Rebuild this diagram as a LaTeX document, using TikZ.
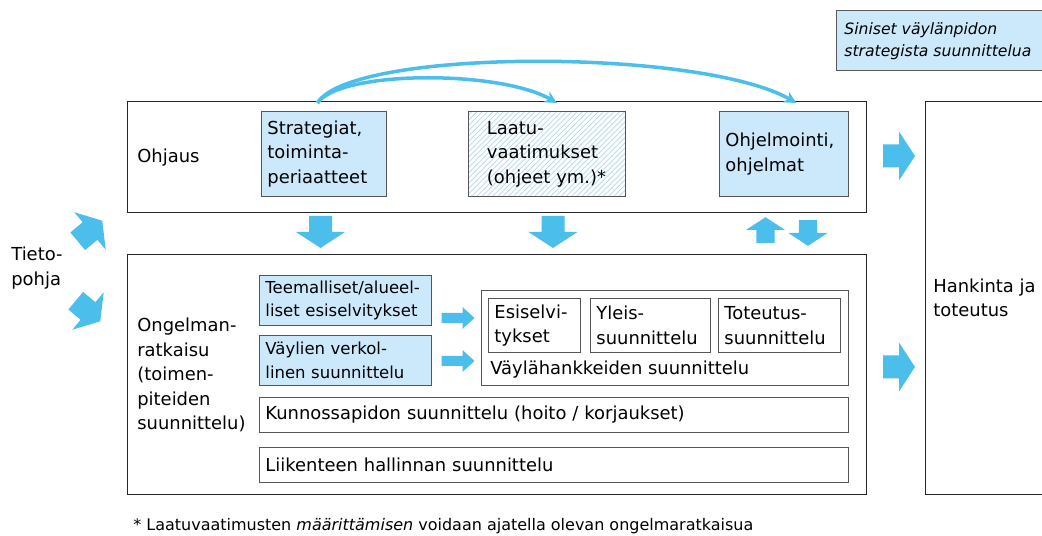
\documentclass[tikz,border=0pt]{standalone}
\usepackage{fontspec}
\setmainfont{DejaVu Sans}
\usepackage{tikz}
\usetikzlibrary{arrows.meta,positioning,patterns}

\definecolor{paleblue}{RGB}{204,233,251}
\definecolor{arrowblue}{RGB}{75,190,235}
\definecolor{boxgray}{RGB}{85,85,85}
\definecolor{hatchblue}{RGB}{180,216,240}
\newcommand{\mainfnt}{\fontsize{10.2}{13.9}\selectfont}
\newcommand{\smallfnt}{\fontsize{9.4}{13.2}\selectfont}
\hyphenpenalty=10000
\exhyphenpenalty=10000

\tikzset{
  outerbox/.style={draw=black!85, line width=0.75pt, anchor=north west, inner sep=0pt},
  box/.style={draw=boxgray, line width=0.5pt, anchor=north west, align=left, inner xsep=0.12cm, inner ysep=0pt, font=\mainfnt},
  bluebox/.style={box, fill=paleblue},
  lbl/.style={anchor=west, align=left, inner sep=0pt, font=\mainfnt},
  bendarrow/.style={draw=arrowblue, line width=2pt, -{Stealth[length=7pt,width=7pt]}},
  pics/fatarrow/.style={code={
    \fill[arrowblue] (-0.32cm,-0.23cm) -- (0,-0.23cm) -- (0,-0.49cm) -- (0.32cm,0)
      -- (0,0.49cm) -- (0,0.23cm) -- (-0.32cm,0.23cm) -- cycle;}},
  pics/thinarrow/.style={code={
    \fill[arrowblue] (-0.33cm,-0.1cm) -- (0.09cm,-0.1cm) -- (0.09cm,-0.22cm) -- (0.33cm,0)
      -- (0.09cm,0.22cm) -- (0.09cm,0.1cm) -- (-0.33cm,0.1cm) -- cycle;}}
}

\begin{document}
\begin{tikzpicture}[x=0.02cm, y=-0.02cm]
    \useasboundingbox (0,0) rectangle (1042,536);
    \clip (0,0) rectangle (1042,536);

    % Legend
    \node[outerbox, draw=gray!70!black, line width=0.6pt, fill=paleblue, minimum width=4.6cm, minimum height=1.2cm] (legend) at (836,10) {};
    \node[lbl, font=\fontsize{8.9}{12.5}\selectfont\itshape] (legendtxt) at (844,41) {Siniset väylänpidon\\strategista suunnittelua};

    % Outer frames
    \node[outerbox, minimum width=14.78cm, minimum height=2.22cm] (ohjaus) at (127,101) {};
    \node[outerbox, minimum width=14.78cm, minimum height=4.8cm] (ongelma) at (127,254) {};
    \node[outerbox, minimum width=3cm, minimum height=7.86cm] (hankinta) at (925,101) {};
    \node[lbl] (ohjauslbl) at (137,158) {Ohjaus};
    \node[lbl] (ongelmalbl) at (137,375) {Ongelman-\\ratkaisu\\(toimen-\\piteiden\\suunnittelu)};
    \node[lbl] (hankintalbl) at (933,298) {Hankinta ja\\toteutus};
    \node[lbl] (tieto) at (11,268) {Tieto-\\pohja};

    % Ohjaus
    \node[bluebox, text width=2.26cm, minimum height=1.7cm] (strat) at (261,111) {Strategiat,\\toiminta-\\periaatteet};
    \node[box, preaction={fill=white}, pattern=north east lines, pattern color=hatchblue,
          inner xsep=0.37cm, text width=2.4cm, minimum height=1.7cm] (laatu) at (468,111) {};
    \node[box, draw=none, inner xsep=0.37cm, text width=2.4cm, minimum height=1.7cm] (laatutxt) at (468,111) {Laatu-\\vaatimukset\\(ohjeet ym.)*};
    \node[bluebox, text width=2.34cm, minimum height=1.7cm] (ohjelm) at (719,111) {Ohjelmointi,\\ohjelmat};

    % Ongelmanratkaisu
    \node[bluebox, font=\smallfnt, text width=3.2cm, minimum height=1cm] (teema) at (259,275) {Teemalliset/alueel-\\liset esiselvitykset};
    \node[bluebox, font=\smallfnt, text width=3.2cm, minimum height=1cm] (verkko) at (259,335) {Väylien verkol-\\linen suunnittelu};
    \node[box, minimum width=7.34cm, minimum height=1.9cm] (hanke) at (481,290) {};
    \node[box, text width=1.6cm, minimum height=1.08cm] (esisel) at (488,298) {Esiselvi-\\tykset};
    \node[box, text width=2.16cm, minimum height=1.08cm] (yleis) at (590,298) {Yleis-\\suunnittelu};
    \node[box, text width=2.2cm, minimum height=1.08cm] (toteut) at (718,298) {Toteutus-\\suunnittelu};
    \node[lbl] (hankelbl) at (490,370) {Väylähankkeiden suunnittelu};
    \node[box, text width=11.54cm, minimum height=0.7cm] (kunnos) at (259,397) {Kunnossapidon suunnittelu (hoito / korjaukset)};
    \node[box, text width=11.54cm, minimum height=0.7cm] (liikenne) at (259,447) {Liikenteen hallinnan suunnittelu};

    % Footnote
    \node[lbl, font=\fontsize{9.1}{10}\selectfont] (note) at (133,526) {* Laatuvaatimusten \textit{määrittämisen} voidaan ajatella olevan ongelmaratkaisua};

    % Block arrows
    \pic[rotate=40] at (90,231) {fatarrow};
    \pic[rotate=-40] at (88,311) {fatarrow};
    \pic[rotate=-90] at (320.5,232) {fatarrow};
    \pic[rotate=-90] at (553,232) {fatarrow};
    \pic[rotate=90, scale=0.8] at (765.5,230) {fatarrow};
    \pic[rotate=-90, scale=0.8] at (808,233) {fatarrow};
    \pic at (899,156) {fatarrow};
    \pic at (899,367) {fatarrow};
    \pic at (458,318) {thinarrow};
    \pic at (458,361) {thinarrow};

    % Curved arrows
    \coordinate[xshift=-0.13cm, yshift=0.16cm] (stratout) at (strat.north);
    \coordinate[xshift=0.2cm, yshift=0.16cm] (laatuin) at (laatu.north);
    \coordinate[xshift=0.25cm, yshift=0.16cm] (ohjelmin) at (ohjelm.north);
    \draw[bendarrow] (stratout) .. controls +(0.46cm,0.66cm) and +(-1.14cm,0.66cm) .. (laatuin);
    \draw[bendarrow] (stratout) .. controls +(0.66cm,1.1cm) and +(-1.92cm,1.1cm) .. (ohjelmin);
\end{tikzpicture}
\end{document}
